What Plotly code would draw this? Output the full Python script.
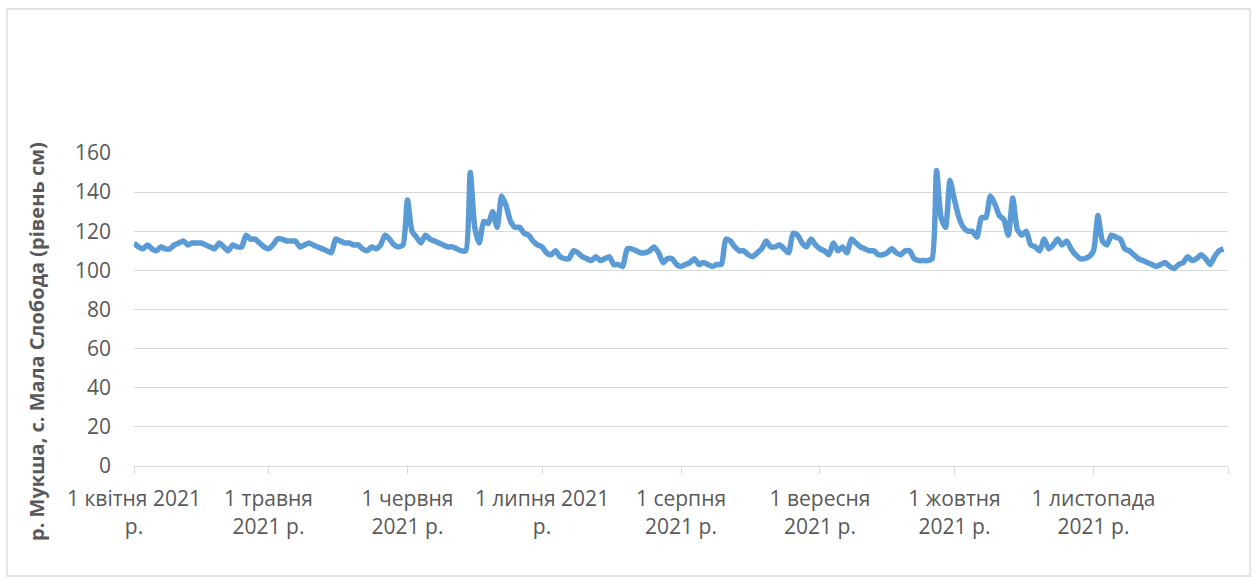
import datetime as dt
import plotly.graph_objects as go

# Daily water level, cm (1 April – 30 November 2021)
level_apr = [114, 112, 111, 113, 111, 110, 112, 111, 111, 113,
             114, 115, 113, 114, 114, 114, 113, 112, 111, 114,
             112, 110, 113, 112, 112, 118, 116, 116, 114, 112]
level_may = [111, 113, 116, 116, 115, 115, 115, 112, 113, 114,
             113, 112, 111, 110, 109, 116, 115, 114, 114, 113,
             113, 111, 110, 112, 111, 113, 118, 116, 113, 112,
             113]
level_jun = [136, 120, 117, 114, 118, 116, 115, 114, 113, 112,
             112, 111, 110, 110, 150, 122, 114, 125, 124, 130,
             122, 138, 133, 125, 122, 122, 119, 118, 115, 113]
level_jul = [112, 109, 108, 110, 107, 106, 106, 110, 109, 107,
             106, 105, 107, 105, 106, 107, 103, 103, 102, 111,
             111, 110, 109, 109, 110, 112, 109, 104, 106, 106,
             103]
level_aug = [102, 103, 104, 106, 103, 104, 103, 102, 103, 103,
             116, 115, 112, 110, 110, 108, 107, 109, 111, 115,
             112, 112, 113, 111, 109, 119, 118, 114, 112, 116,
             113]
level_sep = [111, 110, 108, 114, 110, 112, 109, 116, 114, 112,
             111, 110, 110, 108, 108, 109, 111, 109, 108, 110,
             110, 106, 105, 105, 105, 106, 151, 127, 122, 146]
level_oct = [136, 127, 122, 120, 120, 117, 127, 127, 138, 134,
             128, 126, 118, 137, 121, 118, 120, 113, 112, 110,
             116, 111, 113, 116, 113, 115, 111, 108, 106, 106,
             107]
level_nov = [110, 128, 115, 113, 118, 117, 116, 111, 110, 108,
             106, 105, 104, 103, 102, 103, 104, 102, 101, 103,
             104, 107, 105, 106, 108, 106, 103, 107, 110, 111]

levels = (level_apr + level_may + level_jun + level_jul +
          level_aug + level_sep + level_oct + level_nov)
start = dt.date(2021, 4, 1)
dates = [start + dt.timedelta(days=i) for i in range(len(levels))]

tick_dates = ["2021-04-01", "2021-05-01", "2021-06-01", "2021-07-01",
              "2021-08-01", "2021-09-01", "2021-10-01", "2021-11-01",
              "2021-12-01"]
tick_text = ["1 квітня 2021<br>р.", "1 травня<br>2021 р.", "1 червня<br>2021 р.",
             "1 липня 2021<br>р.", "1 серпня<br>2021 р.", "1 вересня<br>2021 р.",
             "1 жовтня<br>2021 р.", "1 листопада<br>2021 р.", ""]
y_ticks = [0, 20, 40, 60, 80, 100, 120, 140, 160]
y_title = "р. Мукша, с. Мала Слобода (рівень см)"

FONT = "Open Sans"
GREY = "#595959"
GRID = "#D9D9D9"

fig = go.Figure()
fig.add_trace(go.Scatter(
    x=dates, y=levels, mode="lines",
    line=dict(color="#5B9BD5", width=5.5, shape="spline", smoothing=0.6),
    hoverinfo="x+y", showlegend=False,
))

W, H = 1253, 581
L, R, T, B = 134, 25, 153, 115
pw, ph = W - L - R, H - T - B

def px_x(p):
    return (p - L) / pw

def px_y(p):
    return (H - B - p) / ph

fig.update_layout(
    width=W, height=H,
    margin=dict(l=L, r=R, t=T, b=B),
    paper_bgcolor="white", plot_bgcolor="white",
    font=dict(family=FONT, size=21, color=GREY),
    xaxis=dict(
        type="date",
        range=["2021-04-01", "2021-12-01"],
        tickvals=tick_dates, ticktext=tick_text,
        ticks="outside", ticklen=7, tickcolor=GRID, tickwidth=1.3,
        showline=True, linecolor=GRID, linewidth=1.3,
        showgrid=False, zeroline=False,
        tickangle=0, ticklabelstandoff=7,
        tickfont=dict(family=FONT, size=21, color=GREY),
    ),
    yaxis=dict(
        range=[0, 160], tickvals=y_ticks,
        showgrid=True, gridcolor=GRID, gridwidth=1.3,
        zeroline=False, showline=False, ticks="",
        ticklabelstandoff=22,
        tickfont=dict(family=FONT, size=21, color=GREY),
    ),
    shapes=[dict(
        type="rect", xref="paper", yref="paper",
        x0=px_x(7), x1=px_x(1250), y0=px_y(576), y1=px_y(9),
        line=dict(color=GRID, width=1.3), fillcolor="rgba(0,0,0,0)",
        layer="below",
    )],
    annotations=[dict(
        text="<b>" + y_title + "</b>",
        xref="paper", yref="paper", x=px_x(36), y=px_y(342),
        xanchor="center", yanchor="middle", textangle=-90,
        showarrow=False, font=dict(family=FONT, size=20, color=GREY),
    )],
)

fig.write_html("out.html")
